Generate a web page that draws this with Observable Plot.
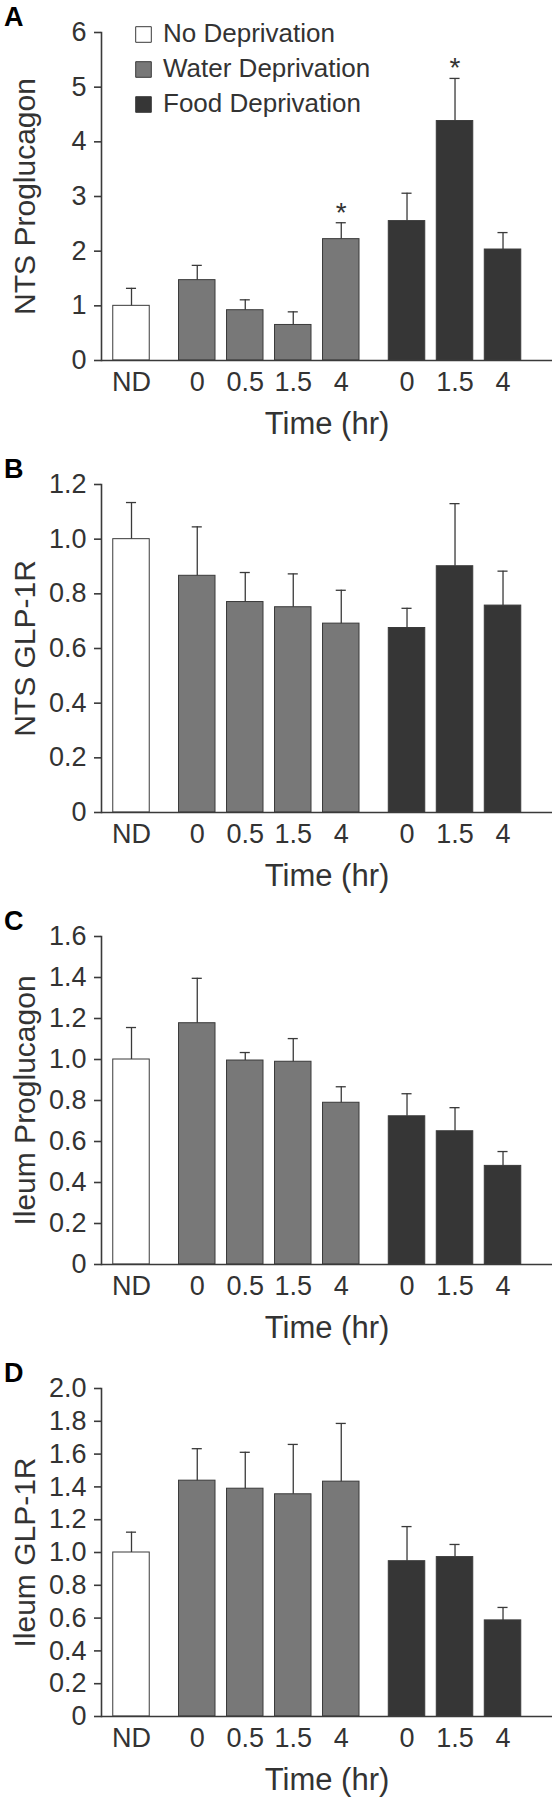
<!DOCTYPE html>
<html>
<head>
<meta charset="utf-8">
<script src="https://cdn.jsdelivr.net/npm/d3@7"></script>
<script src="https://cdn.jsdelivr.net/npm/@observablehq/plot@0.6"></script>
<style>
  html, body { margin: 0; padding: 0; background: #fff; }
  #chart svg { display: block; }
</style>
</head>
<body>
<div id="chart"></div>
<script>
// ---- Data ----
const conditions = ["No Deprivation", "Water Deprivation", "Food Deprivation"];
const barGroups = ["No Deprivation", "Water Deprivation", "Water Deprivation", "Water Deprivation", "Water Deprivation", "Food Deprivation", "Food Deprivation", "Food Deprivation"];
const timeLabels = ["ND", "0", "0.5", "1.5", "4", "0", "1.5", "4"];
const xTitle = "Time (hr)";

const panelLetters = ["A", "B", "C", "D"];
const yTitles = ["NTS Proglucagon", "NTS GLP-1R", "Ileum Proglucagon", "Ileum GLP-1R"];
const yTicksA = [0, 1, 2, 3, 4, 5, 6];
const yTicksB = [0, 0.2, 0.4, 0.6, 0.8, 1.0, 1.2];
const yTicksC = [0, 0.2, 0.4, 0.6, 0.8, 1.0, 1.2, 1.4, 1.6];
const yTicksD = [0, 0.2, 0.4, 0.6, 0.8, 1.0, 1.2, 1.4, 1.6, 1.8, 2.0];

const ntsProglucagonMean = [1.00, 1.47, 0.92, 0.65, 2.22, 2.55, 4.38, 2.03];
const ntsProglucagonSem  = [0.32, 0.27, 0.19, 0.24, 0.30, 0.51, 0.78, 0.31];
const ntsProglucagonSig  = [4, 6];

const ntsGlp1rMean = [1.00, 0.866, 0.770, 0.751, 0.691, 0.675, 0.901, 0.757];
const ntsGlp1rSem  = [0.134, 0.179, 0.108, 0.122, 0.122, 0.072, 0.229, 0.126];
const ntsGlp1rSig  = [];

const ileumProglucagonMean = [1.00, 1.177, 0.995, 0.989, 0.789, 0.723, 0.650, 0.481];
const ileumProglucagonSem  = [0.156, 0.219, 0.039, 0.113, 0.078, 0.110, 0.115, 0.070];
const ileumProglucagonSig  = [];

const ileumGlp1rMean = [1.00, 1.438, 1.389, 1.355, 1.432, 0.947, 0.972, 0.586];
const ileumGlp1rSem  = [0.124, 0.195, 0.222, 0.304, 0.355, 0.211, 0.077, 0.079];
const ileumGlp1rSig  = [];

// ---- Layout / style ----
const FONT = "'Liberation Sans', Arial, Helvetica, sans-serif";
const INK = "#333333";
const LINE = "#3a3a3a";
const fillOf = {"No Deprivation": "#ffffff", "Water Deprivation": "#787878", "Food Deprivation": "#363636"};
const W = 553, H = 452, ML = 101, MR = 1, MT = 32, MB = 92;
const STEP = 48, FIRST = 131, GAP = 0.37, HALF = 0.38, CAP = 0.105;

// slot positions: one unit per bar, extra gap between condition groups
const slots = [];
{
  let gaps = 0;
  barGroups.forEach((g, i) => {
    if (i > 0 && g !== barGroups[i - 1]) gaps++;
    slots.push(i + gaps * GAP);
  });
}

const panels = [
  {mean: ntsProglucagonMean, sem: ntsProglucagonSem, sig: ntsProglucagonSig, ticks: yTicksA, legend: true},
  {mean: ntsGlp1rMean, sem: ntsGlp1rSem, sig: ntsGlp1rSig, ticks: yTicksB},
  {mean: ileumProglucagonMean, sem: ileumProglucagonSem, sig: ileumProglucagonSig, ticks: yTicksC},
  {mean: ileumGlp1rMean, sem: ileumGlp1rSem, sig: ileumGlp1rSig, ticks: yTicksD}
];

const root = document.getElementById("chart");

panels.forEach((p, k) => {
  const rows = timeLabels.map((t, i) => ({
    pos: slots[i], group: barGroups[i], label: t,
    mean: p.mean[i], top: p.mean[i] + p.sem[i], sig: p.sig.includes(i)
  }));
  const ymax = p.ticks[p.ticks.length - 1];
  const intTicks = p.ticks.every(v => Number.isInteger(v));
  const fmt = v => (v === 0 ? "0" : intTicks ? String(v) : v.toFixed(1));

  const marks = [
    Plot.rect(rows, {
      x1: d => d.pos - HALF, x2: d => d.pos + HALF, y1: 0, y2: "mean",
      fill: d => fillOf[d.group], stroke: LINE, strokeWidth: 1
    }),
    Plot.ruleX(rows, {x: "pos", y1: "mean", y2: "top", stroke: LINE, strokeWidth: 1.3}),
    Plot.ruleY(rows, {y: "top", x1: d => d.pos - CAP, x2: d => d.pos + CAP, stroke: LINE, strokeWidth: 1.3}),
    Plot.ruleY([0], {stroke: LINE, strokeWidth: 1.6}),
    Plot.frame({anchor: "left", stroke: LINE, strokeWidth: 1.6}),
    Plot.axisY({
      ticks: p.ticks, tickFormat: fmt, tickSize: 7, tickPadding: 8,
      fontSize: 27, stroke: LINE, strokeWidth: 1.6, label: null
    }),
    Plot.text(rows, {
      x: "pos", text: "label", frameAnchor: "bottom", lineAnchor: "top",
      dy: 11, fontSize: 27, fill: INK
    }),
    Plot.text(rows.filter(d => d.sig), {
      x: "pos", y: "top", text: () => "*", dy: -10, fontSize: 28, fill: INK
    }),
    Plot.text([yTitles[k]], {
      frameAnchor: "left", rotate: -90, dx: -67, lineAnchor: "bottom",
      textAnchor: "middle", fontSize: 30, fill: INK
    }),
    Plot.text([xTitle], {
      frameAnchor: "bottom", dy: 73, lineAnchor: "bottom", textAnchor: "middle",
      fontSize: 31, fill: INK
    }),
    Plot.text([panelLetters[k]], {
      frameAnchor: "top-left", dx: -97.5, dy: -6.5, lineAnchor: "bottom",
      textAnchor: "start", fontSize: 27, fontWeight: "bold", fill: "#000"
    })
  ];

  if (p.legend) {
    conditions.forEach((c, i) => {
      marks.push(Plot.dot([c], {
        x: null, y: null, frameAnchor: "top-left", dx: 42, dy: 2 + 35 * i,
        symbol: "square", r: 8.8, fill: fillOf[c], stroke: LINE, strokeWidth: 1
      }));
      marks.push(Plot.text([c], {
        frameAnchor: "top-left", dx: 61.5, dy: 9.7 + 35 * i, lineAnchor: "bottom",
        textAnchor: "start", fontSize: 26, fill: INK
      }));
    });
  }

  const svg = Plot.plot({
    width: W, height: H,
    marginLeft: ML, marginRight: MR, marginTop: MT, marginBottom: MB,
    style: {fontFamily: FONT, color: INK, background: "#fff", overflow: "visible"},
    x: {type: "linear", domain: [(ML - FIRST) / STEP, (W - MR - FIRST) / STEP], axis: null},
    y: {domain: [0, ymax], axis: null},
    marks
  });
  root.appendChild(svg);
});
</script>
</body>
</html>
